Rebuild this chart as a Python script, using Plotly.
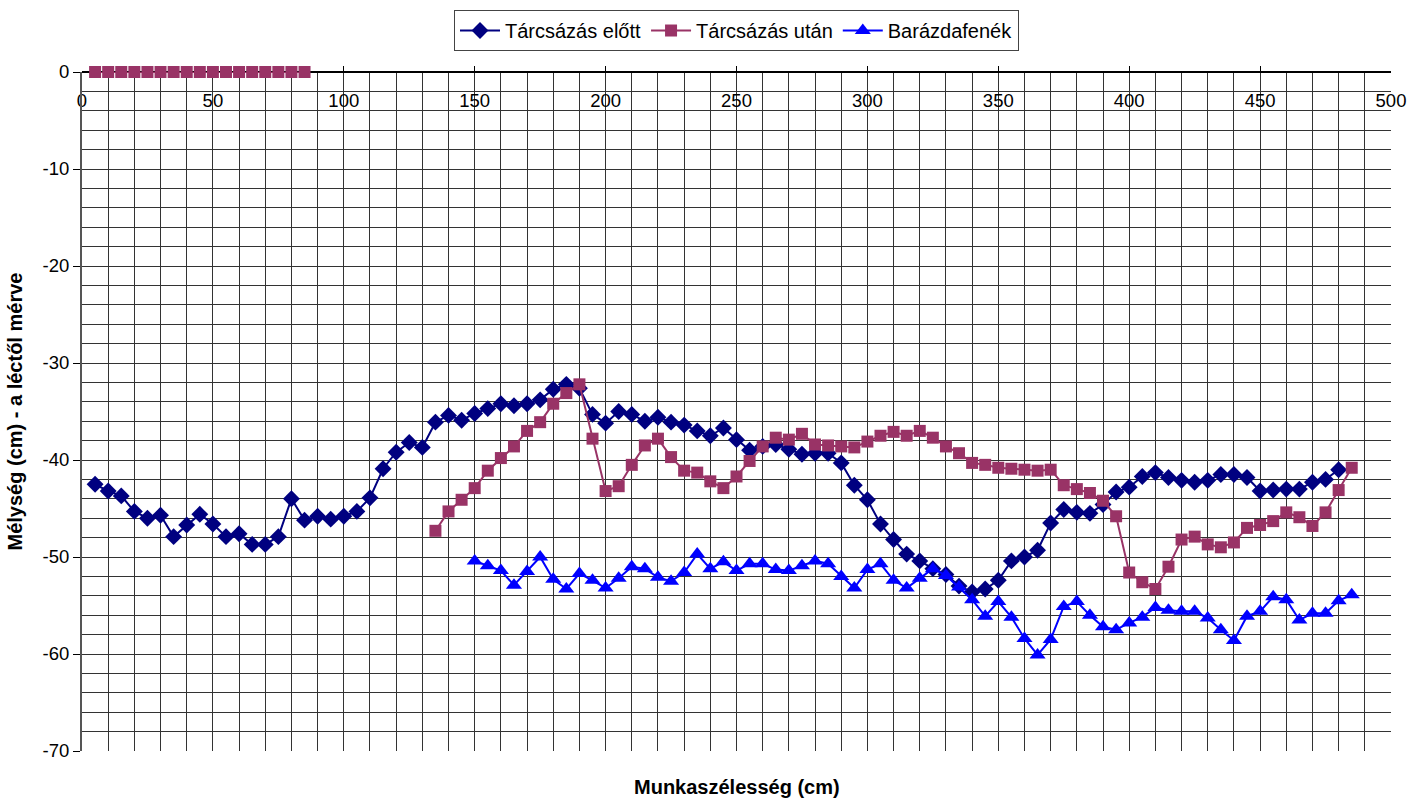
import plotly.graph_objects as go

x_elott = list(range(5, 485, 5))
y_elott = [-42.5, -43.2, -43.7, -45.3, -46.0, -45.7, -47.9, -46.7, -45.6, -46.6,
           -47.9, -47.6, -48.7, -48.7, -47.9, -44.0, -46.2, -45.8, -46.1, -45.8,
           -45.3, -43.9, -40.9, -39.2, -38.2, -38.7, -36.1, -35.4, -35.9, -35.2,
           -34.7, -34.2, -34.4, -34.2, -33.8, -32.7, -32.2, -32.6, -35.3, -36.2,
           -35.0, -35.3, -36.0, -35.6, -36.1, -36.4, -37.0, -37.5, -36.7, -37.9,
           -39.0, -38.6, -38.4, -38.9, -39.4, -39.3, -39.3, -40.3, -42.6, -44.1,
           -46.6, -48.2, -49.7, -50.4, -51.2, -51.8, -53.0, -53.6, -53.3, -52.4,
           -50.4, -50.0, -49.3, -46.5, -45.1, -45.4, -45.5, -44.6, -43.3, -42.8,
           -41.7, -41.3, -41.8, -42.1, -42.3, -42.1, -41.5, -41.5, -41.8, -43.2,
           -43.1, -43.0, -43.0, -42.3, -42.0, -41.0]

x_utan = list(range(5, 490, 5))
y_utan_start = [0.0] * 17  # 5..85
y_utan_gap = [None] * 9    # 90..130
y_utan_rest = [-47.3, -45.3, -44.1, -42.9, -41.1, -39.8, -38.6, -37.0, -36.1, -34.2,
               -33.1, -32.2, -37.8, -43.2, -42.7, -40.5, -38.5, -37.8, -39.7, -41.1,
               -41.3, -42.2, -42.9, -41.7, -40.1, -38.6, -37.7, -37.9, -37.3, -38.4,
               -38.5, -38.6, -38.7, -38.1, -37.5, -37.1, -37.5, -37.0, -37.7, -38.6,
               -39.3, -40.3, -40.5, -40.8, -40.9, -41.0, -41.1, -41.0, -42.6, -43.0,
               -43.4, -44.2, -45.8, -51.6, -52.6, -53.3, -51.0, -48.2, -47.9, -48.7,
               -49.0, -48.5, -47.0, -46.7, -46.3, -45.4, -45.9, -46.8, -45.4, -43.1,
               -40.8]
y_utan = y_utan_start + y_utan_gap + y_utan_rest

x_fenek = list(range(150, 490, 5))
y_fenek = [-50.4, -50.9, -51.4, -52.9, -51.5, -50.0, -52.3, -53.3, -51.7, -52.4,
           -53.2, -52.2, -51.0, -51.2, -52.1, -52.5, -51.6, -49.7, -51.2, -50.5,
           -51.4, -50.7, -50.7, -51.3, -51.4, -50.9, -50.4, -50.7, -52.0, -53.2,
           -51.3, -50.7, -52.4, -53.2, -52.2, -51.2, -51.9, -53.1, -54.4, -56.1,
           -54.6, -56.2, -58.4, -60.1, -58.5, -55.1, -54.6, -56.0, -57.2, -57.5,
           -56.8, -56.2, -55.2, -55.5, -55.6, -55.6, -56.3, -57.5, -58.6, -56.1,
           -55.6, -54.1, -54.4, -56.5, -55.8, -55.8, -54.5, -53.9]

names = ["Tárcsázás előtt", "Tárcsázás után", "Barázdafenék"]
x_title = "Munkaszélesség (cm)"
y_title = "Mélység (cm) - a léctől mérve"
y_tickvals = [0, -10, -20, -30, -40, -50, -60, -70]
y_ticktext = ["0", "-10", "-20", "-30", "-40", "-50", "-60", "-70"]

FONT = "Liberation Sans, Arial, sans-serif"

fig = go.Figure()
fig.add_trace(go.Scatter(
    x=x_elott, y=y_elott, name=names[0], mode="lines+markers",
    line=dict(color="#000080", width=2),
    marker=dict(symbol="diamond", size=13, color="#000080"),
))
fig.add_trace(go.Scatter(
    x=x_utan, y=y_utan, name=names[1], mode="lines+markers",
    line=dict(color="#993366", width=2), connectgaps=False, cliponaxis=False,
    marker=dict(symbol="square", size=12, color="#993366"),
))
fig.add_trace(go.Scatter(
    x=x_fenek, y=y_fenek, name=names[2], mode="lines+markers",
    line=dict(color="#0000FF", width=2),
    marker=dict(symbol="triangle-up", size=14, color="#0000FF"),
))

fig.update_layout(
    width=1427, height=801,
    margin=dict(l=82, r=36, t=72, b=50, autoexpand=False),
    paper_bgcolor="white", plot_bgcolor="white",
    font=dict(family=FONT, size=18, color="black"),
    showlegend=True,
    legend=dict(
        orientation="h", x=0.5, xanchor="center", y=1.0913, yanchor="top",
        bordercolor="#444", borderwidth=1, bgcolor="white",
        font=dict(family=FONT, size=20), itemwidth=40, tracegroupgap=0,
    ),
    xaxis=dict(
        range=[0, 500], dtick=50, tick0=0,
        anchor="free", position=1, side="bottom", layer="below traces",
        ticks="inside", ticklen=5, tickcolor="#000", ticklabelstandoff=12,
        showline=True, linecolor="#000", linewidth=1.5,
        showgrid=True, gridcolor="#333", gridwidth=1,
        minor=dict(dtick=10, showgrid=True, gridcolor="#333", gridwidth=1),
        zeroline=False, tickfont=dict(size=18.5), automargin=False,
    ),
    yaxis=dict(
        range=[-70, 0], tickmode="array", tickvals=y_tickvals, ticktext=y_ticktext,
        domain=[0, 1],
        ticks="outside", ticklen=7, tickcolor="#000",
        showline=True, linecolor="#555", linewidth=2,
        showgrid=True, gridcolor="#333", gridwidth=1,
        minor=dict(dtick=2, tick0=0, showgrid=True, gridcolor="#333", gridwidth=1),
        zeroline=False, tickfont=dict(size=18.5), automargin=False,
    ),
    annotations=[
        dict(text="<b>" + x_title + "</b>", xref="paper", yref="paper",
             x=0.5, y=-0.034, xanchor="center", yanchor="top", showarrow=False,
             font=dict(family=FONT, size=20)),
        dict(text="<b>" + y_title + "</b>", xref="paper", yref="paper",
             x=-0.0512, y=0.5, xanchor="center", yanchor="middle", showarrow=False,
             textangle=-90, font=dict(family=FONT, size=20)),
    ],
)

# remove the browser's default 8px body margin so the figure fills the window exactly
fig.write_html("out.html", config={"displayModeBar": False},
               post_script="document.body.style.margin='0';")
